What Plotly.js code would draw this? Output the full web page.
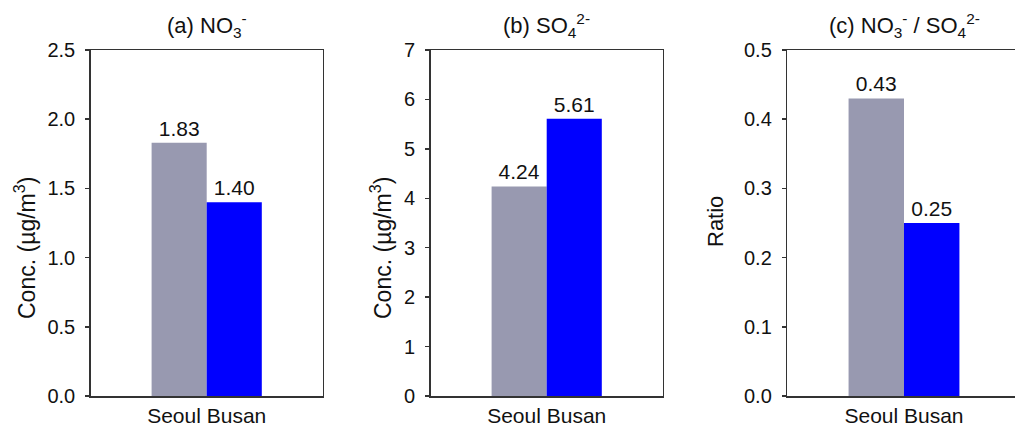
<!DOCTYPE html>
<html>
<head>
<meta charset="utf-8">
<script src="https://cdn.plot.ly/plotly-3.0.1.min.js"></script>
<style>html,body{margin:0;padding:0;background:#fff;}#chart{width:1015px;height:426px;}</style>
</head>
<body>
<div id="chart"></div>
<script>
// Data
var categories = ["Seoul Busan"];
var sites = ["Seoul", "Busan"];
var no3 = [1.83, 1.40];
var so4 = [4.24, 5.61];
var ratio = [0.43, 0.25];
var no3Labels = ["1.83", "1.40"];
var so4Labels = ["4.24", "5.61"];
var ratioLabels = ["0.43", "0.25"];
var panelTitles = ["(a) NO<sub>3</sub><sup>-</sup>", "(b) SO<sub>4</sub><sup>2-</sup>", "(c) NO<sub>3</sub><sup>-</sup> / SO<sub>4</sub><sup>2-</sup>"];
var yTitles = ["Conc. (µg/m<sup>3</sup>)", "Conc. (µg/m<sup>3</sup>)", "Ratio"];

var colors = ["#9899b0", "#0000ff"];
var W = 1015, H = 426;
var FONT = "Liberation Sans, Arial, sans-serif";
var txt = "#111111";

var panels = [
  {vals: no3, labels: no3Labels, xa: "x", ya: "y"},
  {vals: so4, labels: so4Labels, xa: "x2", ya: "y2"},
  {vals: ratio, labels: ratioLabels, xa: "x3", ya: "y3"}
];

var traces = [];
panels.forEach(function(p, pi) {
  sites.forEach(function(s, si) {
    traces.push({
      type: "bar",
      name: s,
      x: categories,
      y: [p.vals[si]],
      text: [p.labels[si]],
      textposition: "outside",
      textfont: {family: FONT, size: 21, color: txt},
      cliponaxis: false,
      marker: {color: colors[si], line: {width: 0}},
      xaxis: p.xa, yaxis: p.ya,
      showlegend: false,
      hoverinfo: "none"
    });
  });
});

function px(x) { return x / W; }
function py(y) { return (H - y) / H; }

var lineC = "#333333";
function xAxis(domain, range, mirror) {
  return {
    domain: domain, range: range, type: "category",
    showline: true, linecolor: lineC, linewidth: 1.5, mirror: mirror,
    ticks: "", showgrid: false, zeroline: false, fixedrange: true,
    tickfont: {family: FONT, size: 21, color: txt}
  };
}
function yAxis(anchor, range, dtick, fmt, mirror) {
  return {
    anchor: anchor, domain: [py(396), py(50)], range: range, dtick: dtick, tick0: 0,
    tickformat: fmt, showline: true, linecolor: lineC, linewidth: 1.5, mirror: mirror,
    ticks: "outside", ticklen: 4, tickwidth: 1.5, tickcolor: lineC,
    ticklabelstandoff: 6,
    showgrid: false, zeroline: false, fixedrange: true,
    tickfont: {family: FONT, size: 20, color: txt}
  };
}

var titleFont = {family: FONT, size: 22, color: txt};
var axFont = {family: FONT, size: 23, color: txt};
var ratioFont = {family: FONT, size: 22, color: txt};

var layout = {
  width: W, height: H,
  margin: {l: 0, r: 0, t: 0, b: 0},
  paper_bgcolor: "#fff", plot_bgcolor: "#fff",
  barmode: "group", bargap: 0.525, bargroupgap: 0,
  font: {family: FONT, size: 20, color: txt},
  xaxis: Object.assign(xAxis([px(90.7), px(322.7)], [-0.5, 0.5], true), {anchor: "y"}),
  yaxis: yAxis("x", [0, 2.5], 0.5, ".1f", true),
  xaxis2: Object.assign(xAxis([px(430.7), px(662.7)], [-0.5, 0.5], true), {anchor: "y2"}),
  yaxis2: yAxis("x2", [0, 7], 1, "d", true),
  xaxis3: Object.assign(xAxis([px(787.3), 1], [-0.5, 0.4756], true), {anchor: "y3"}),
  yaxis3: yAxis("x3", [0, 0.5], 0.1, ".1f", false),
  annotations: [
    {text: panelTitles[0], x: px(206.7), y: py(26), xref: "paper", yref: "paper", showarrow: false, xanchor: "center", yanchor: "middle", font: titleFont},
    {text: panelTitles[1], x: px(546.7), y: py(26), xref: "paper", yref: "paper", showarrow: false, xanchor: "center", yanchor: "middle", font: titleFont},
    {text: panelTitles[2], x: px(904), y: py(26), xref: "paper", yref: "paper", showarrow: false, xanchor: "center", yanchor: "middle", font: titleFont},
    {text: yTitles[0], x: px(25), y: py(248), xref: "paper", yref: "paper", showarrow: false, textangle: -90, xanchor: "center", yanchor: "middle", font: axFont},
    {text: yTitles[1], x: px(381), y: py(248), xref: "paper", yref: "paper", showarrow: false, textangle: -90, xanchor: "center", yanchor: "middle", font: axFont},
    {text: yTitles[2], x: px(715), y: py(222), xref: "paper", yref: "paper", showarrow: false, textangle: -90, xanchor: "center", yanchor: "middle", font: ratioFont}
  ]
};

Plotly.newPlot("chart", traces, layout, {staticPlot: true, displayModeBar: false});
</script>
</body>
</html>
